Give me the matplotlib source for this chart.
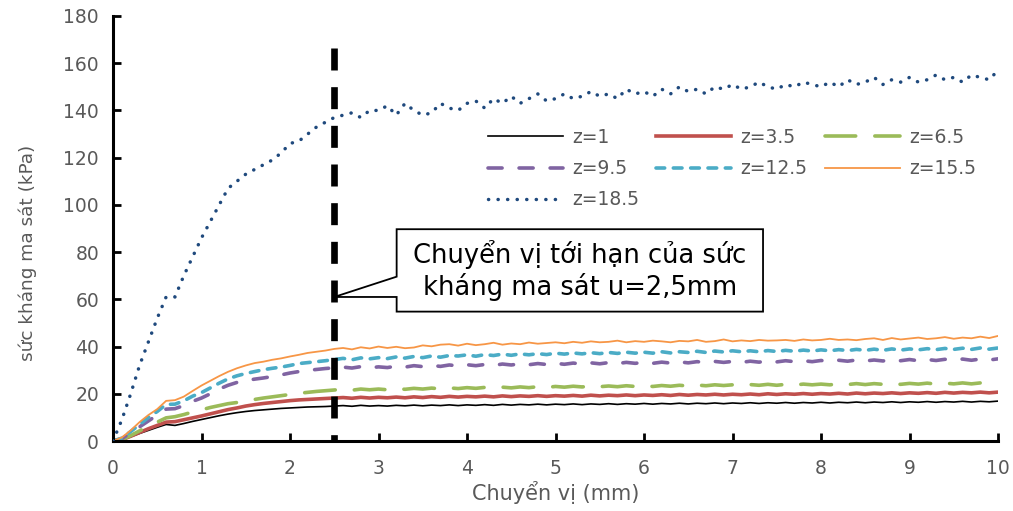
import matplotlib
matplotlib.use("Agg")
import matplotlib.pyplot as plt
from matplotlib.patches import Polygon

plt.rcParams['font.family'] = ['DejaVu Sans']

# displacement grid (mm)
disp = [i / 10 for i in range(101)]

z18_5 = [0, 9, 20, 32, 42, 52, 61, 61, 70, 78,
         86, 93, 100, 107, 110, 113, 115, 117, 119, 122,
         126, 127, 130, 133, 135, 137, 138, 139, 137, 140,
         140, 142, 138, 143, 140, 138, 139, 143, 141, 140,
         143, 144, 141, 145, 143, 146, 143, 145, 147, 144,
         145, 147, 145, 146, 148, 146, 147, 145, 149, 147,
         148, 146, 149, 147, 150, 148, 149, 147, 150, 149,
         151, 149, 150, 152, 150, 149, 151, 150, 152, 151,
         150, 152, 150, 153, 151, 152, 154, 151, 153, 152,
         154, 152, 153, 155, 153, 154, 152, 155, 154, 153,
         157]
z15_5 = [0, 1.5, 4.5, 8, 11, 13.5, 17, 17.3, 18.8, 21.2,
         23.5, 25.5, 27.5, 29.3, 30.8, 32, 33, 33.6, 34.4, 35,
         35.8, 36.5, 37.3, 37.8, 38.3, 39, 39.4, 38.8, 39.7, 39.2,
         40, 39.4, 39.9, 39.3, 39.6, 40.5, 40.1, 40.8, 41, 40.4,
         41.2, 40.6, 41, 41.6, 40.8, 41.3, 41, 41.7, 41.2, 41.5,
         41.8, 41.4, 42, 41.6, 42.2, 41.8, 42, 42.5, 41.8, 42.3,
         42, 42.5, 42.2, 41.8, 42.4, 42.2, 42.8, 42, 42.3, 43,
         42.2, 42.6, 42.3, 42.8, 42.5, 42.6, 42.8, 42.4, 43, 42.6,
         42.8, 43.3, 42.8, 43, 42.7, 43.2, 43.5, 42.8, 43.6, 43,
         43.4, 43.8, 43.2, 43.5, 44, 43.3, 43.8, 43.5, 44.2, 43.6,
         44.5]
z12_5 = [0, 1.2, 4, 7, 10, 12.5, 15.5, 15.6, 17, 19,
         20.5, 22.5, 24.5, 26.3, 27.6, 28.6, 29.4, 30.2, 30.8, 31.3,
         32, 32.8, 33.2, 33.6, 34, 34.5, 35, 34.4, 35.2, 34.8,
         35.3, 34.9, 35.6, 35.1, 35.8, 35.3, 36, 35.5, 36.2, 36,
         36.5, 35.9, 36.6, 36.2, 36.8, 36.3, 36.9, 36.5, 37, 36.6,
         37.2, 36.8, 37.3, 36.9, 37.4, 37, 37.5, 37.1, 37.6, 37.2,
         37.6, 37.2, 37.8, 37.3, 37.8, 37.5, 38, 37.5, 38.1, 37.7,
         38.2, 37.8, 38.2, 37.8, 38.3, 37.9, 38.4, 38, 38.5, 38.1,
         38.6, 38.2, 38.7, 38.3, 38.8, 38.4, 38.9, 38.4, 39, 38.5,
         39, 38.6, 39.1, 38.7, 39.2, 38.8, 39.3, 38.8, 39.4, 38.9,
         39.4]
z9_5 = [0, 1, 3.5, 6, 8.5, 11, 13.5, 13.7, 15, 16.8,
        18.2, 20, 22, 23.6, 24.8, 25.6, 26.2, 26.7, 27.3, 28,
        28.8, 29.4, 29.9, 30.3, 30.7, 31, 31.3, 30.9, 31.5, 31,
        31.4, 31.1, 31.7, 31.3, 31.9, 31.5, 32, 31.6, 32.2, 31.8,
        32.3, 31.9, 32.4, 32, 32.6, 32.2, 32.7, 32.3, 32.8, 32.4,
        32.9, 32.5, 33, 32.6, 33.1, 32.7, 33.2, 32.8, 33.3, 32.9,
        33.3, 32.9, 33.4, 33, 33.5, 33.1, 33.6, 33.2, 33.7, 33.3,
        33.7, 33.3, 33.8, 33.4, 33.9, 33.5, 34, 33.6, 34, 33.6,
        34.1, 33.7, 34.2, 33.8, 34.3, 33.9, 34.3, 33.9, 34.4, 34,
        34.5, 34, 34.5, 34.1, 34.6, 34.2, 34.7, 34.2, 34.7, 34.3,
        34.8]
z6_5 = [0, 0.6, 2.3, 4.3, 6.3, 8, 9.8, 10.3, 11.2, 12.3,
        13.2, 14.2, 15, 15.8, 16.3, 17, 17.6, 18.2, 18.7, 19.2,
        19.7, 20.2, 20.6, 21, 21.3, 21.6, 21.9, 21.5, 22, 21.7,
        22, 21.7, 22.2, 21.9, 22.3, 22, 22.4, 22.1, 22.5, 22.2,
        22.6, 22.3, 22.7, 22.4, 22.8, 22.5, 22.9, 22.6, 23, 22.7,
        23.1, 22.8, 23.2, 22.9, 23.3, 23, 23.3, 23, 23.4, 23.1,
        23.4, 23.1, 23.5, 23.2, 23.6, 23.3, 23.7, 23.4, 23.8, 23.5,
        23.8, 23.5, 23.9, 23.6, 24, 23.6, 24, 23.7, 24.1, 23.8,
        24.1, 23.8, 24.2, 23.9, 24.3, 23.9, 24.3, 24, 24.4, 24,
        24.4, 24.1, 24.5, 24.1, 24.5, 24.2, 24.6, 24.2, 24.6, 24.3,
        24.6]
z3_5 = [0, 0.5, 2, 3.6, 5.2, 6.6, 8, 8.2, 9, 9.8,
        10.6, 11.5, 12.4, 13.3, 14, 14.8, 15.4, 15.9, 16.3, 16.7,
        17.1, 17.4, 17.6, 17.8, 18, 18.2, 18.4, 18.1, 18.5, 18.2,
        18.5, 18.3, 18.6, 18.3, 18.7, 18.4, 18.8, 18.5, 18.9, 18.6,
        18.9, 18.7, 19, 18.7, 19.1, 18.8, 19.1, 18.9, 19.2, 18.9,
        19.2, 19, 19.3, 19, 19.4, 19.1, 19.4, 19.2, 19.5, 19.2,
        19.5, 19.3, 19.6, 19.3, 19.7, 19.4, 19.7, 19.5, 19.8, 19.5,
        19.8, 19.6, 19.9, 19.6, 20, 19.7, 20, 19.8, 20.1, 19.8,
        20.1, 19.9, 20.2, 19.9, 20.3, 20, 20.3, 20.1, 20.4, 20.1,
        20.4, 20.2, 20.5, 20.2, 20.6, 20.3, 20.6, 20.4, 20.7, 20.4,
        20.7]
z1 = [0, 0.5, 1.8, 3.2, 4.5, 5.8, 7, 6.6, 7.4, 8.3,
      9.1, 9.9, 10.7, 11.4, 12, 12.5, 12.9, 13.2, 13.5, 13.8,
      14, 14.2, 14.4, 14.5, 14.6, 14.8, 15, 14.7, 15.1, 14.8,
      15, 14.8, 15.1, 14.9, 15.2, 14.9, 15.2, 15, 15.3, 15,
      15.3, 15.1, 15.4, 15.1, 15.5, 15.2, 15.5, 15.3, 15.6, 15.3,
      15.6, 15.4, 15.7, 15.4, 15.7, 15.5, 15.8, 15.5, 15.8, 15.6,
      15.9, 15.6, 15.9, 15.7, 16, 15.7, 16, 15.8, 16.1, 15.8,
      16.1, 15.9, 16.2, 15.9, 16.2, 16, 16.3, 16, 16.3, 16.1,
      16.4, 16.1, 16.4, 16.2, 16.5, 16.2, 16.5, 16.3, 16.6, 16.3,
      16.6, 16.4, 16.7, 16.4, 16.7, 16.5, 16.8, 16.5, 16.8, 16.6,
      16.9]

labels = ["z=1", "z=3.5", "z=6.5", "z=9.5", "z=12.5", "z=15.5", "z=18.5"]
u_crit = 2.5
u_line_top = 166.5
callout_tip = 61
callout_text = "Chuyển vị tới hạn của sức\nkháng ma sát u=2,5mm"

grey = "#595959"
fig = plt.figure(figsize=(10.13, 5.11), dpi=100)
ax = fig.add_axes([113 / 1013, 1 - 441 / 511, 885 / 1013, 425 / 511])

h = []
h += ax.plot(disp, z1, color="black", lw=1.2, label=labels[0], zorder=2)
h += ax.plot(disp, z3_5, color="#C0504D", lw=2.6, label=labels[1], zorder=2)
h += ax.plot(disp, z6_5, color="#9BBB59", lw=2.6, dashes=(8.5, 5.3),
             dash_capstyle="round", label=labels[2], zorder=2)
h += ax.plot(disp, z9_5, color="#8064A2", lw=2.6, dashes=(3.9, 4.7),
             dash_capstyle="round", label=labels[3], zorder=2)
h += ax.plot(disp, z12_5, color="#4BACC6", lw=2.6, dashes=(2.4, 2.4),
             dash_capstyle="round", label=labels[4], zorder=2)
h += ax.plot(disp, z15_5, color="#F79646", lw=1.3, label=labels[5], zorder=2)
h += ax.plot(disp, z18_5, color="#1F497D", lw=2.5, dashes=(0.05, 2.7),
             dash_capstyle="round", label=labels[6], zorder=3)

# critical displacement line
ax.plot([u_crit, u_crit], [u_line_top, 0], color="black", lw=4.8,
        dashes=(3.3, 2.5), dash_capstyle="butt", zorder=2.5)

# callout
bx0, bx1, by0, by1 = 3.205, 7.345, 54.8, 89.7
poly = Polygon([(bx0, by0), (bx1, by0), (bx1, by1), (bx0, by1), (bx0, 69.6),
                (u_crit, callout_tip), (bx0, callout_tip)], closed=True,
               facecolor="white", edgecolor="black", lw=1.3, zorder=4)
ax.add_patch(poly)
ax.text((bx0 + bx1) / 2, (by0 + by1) / 2, callout_text, ha="center",
        va="center", fontsize=18.5, color="black", linespacing=1.2, zorder=5)

ax.set_xlim(0, 10)
ax.set_ylim(0, 180)
ax.set_xticks(range(0, 11))
ax.set_yticks(range(0, 181, 20))
for s in ["top", "right"]:
    ax.spines[s].set_visible(False)
for s in ["left", "bottom"]:
    ax.spines[s].set_linewidth(2.2)
    ax.spines[s].set_color("black")
ax.tick_params(direction="in", length=6, width=2, colors="black",
               labelcolor=grey, labelsize=13.5)
ax.tick_params(axis="y", pad=10)
ax.tick_params(axis="x", pad=13)
ax.set_xlabel("Chuyển vị (mm)", fontsize=15, color=grey, labelpad=2)
ax.set_ylabel("sức kháng ma sát (kPa)", fontsize=13.3, color=grey)
ax.yaxis.set_label_coords(-0.086, 0.442)

# row-wise legend order (matplotlib fills columns first)
order = [0, 3, 6, 1, 4, 2, 5]
leg = ax.legend([h[i] for i in order], [labels[i] for i in order],
                loc="upper left", bbox_to_anchor=(488 / 1013, 1 - 128 / 511),
                bbox_transform=fig.transFigure, ncol=3, frameon=False,
                fontsize=13.5, handlelength=4.0, handletextpad=0.5,
                columnspacing=0.9, labelspacing=0.65, borderaxespad=0,
                borderpad=0)
for t in leg.get_texts():
    t.set_color(grey)

fig.savefig("out.png", dpi=100)
